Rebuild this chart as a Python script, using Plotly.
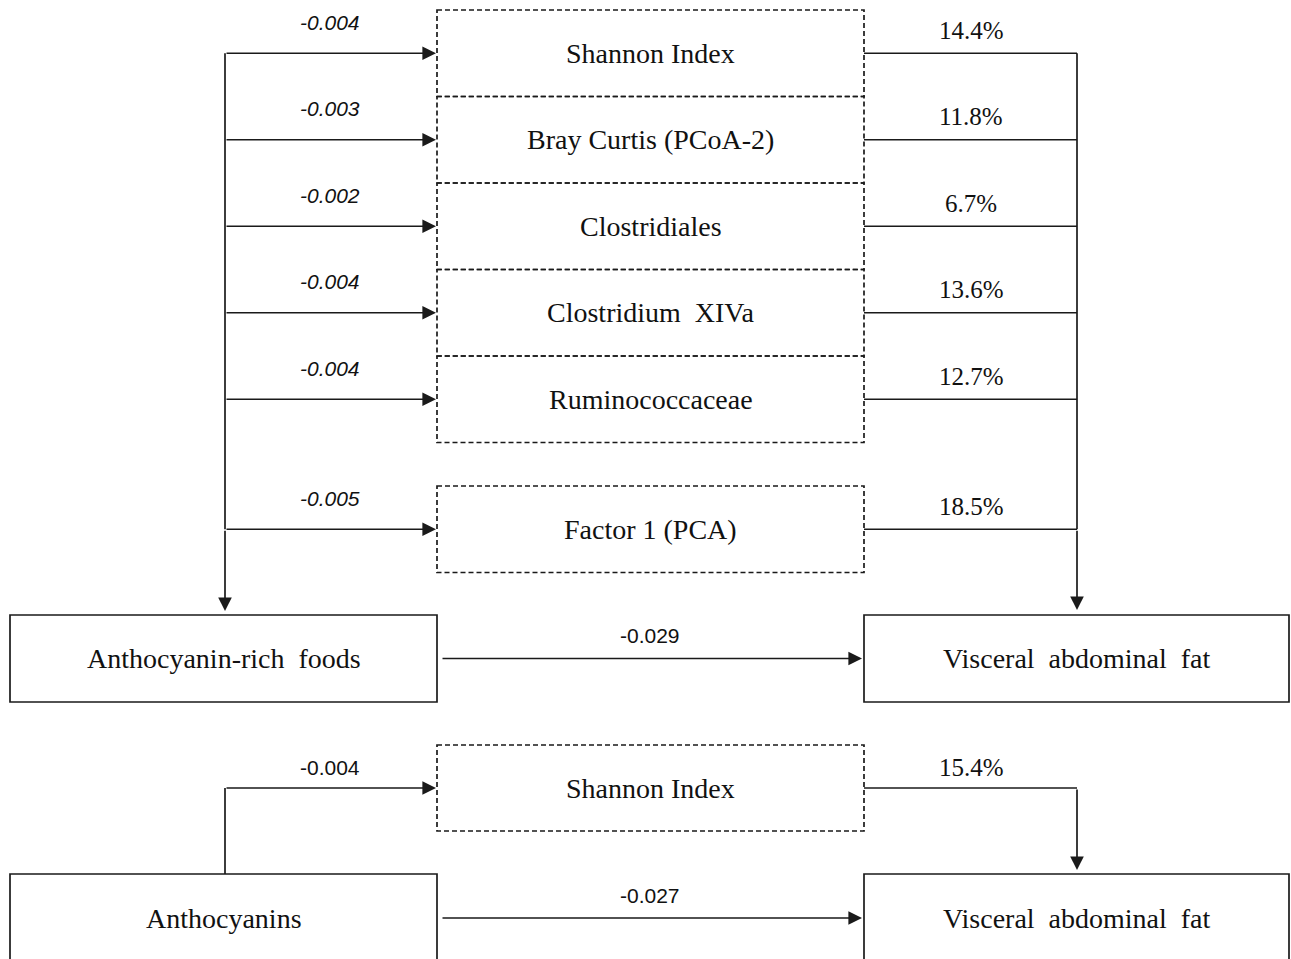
import plotly.graph_objects as go

# ---------------- data ----------------
mediators = ["Shannon Index", "Bray Curtis (PCoA-2)", "Clostridiales",
             "Clostridium\u00a0 XIVa", "Ruminococcaceae", "Factor 1 (PCA)"]
a_path = ["-0.004", "-0.003", "-0.002", "-0.004", "-0.004", "-0.005"]
pct_mediated = ["14.4%", "11.8%", "6.7%", "13.6%", "12.7%", "18.5%"]
exposure_1 = "Anthocyanin-rich\u00a0 foods"
outcome_1 = "Visceral\u00a0 abdominal\u00a0 fat"
direct_1 = "-0.029"

exposure_2 = "Anthocyanins"
mediator_2 = "Shannon Index"
a_path_2 = "-0.004"
pct_mediated_2 = "15.4%"
outcome_2 = "Visceral\u00a0 abdominal\u00a0 fat"
direct_2 = "-0.027"

# ---------------- geometry ----------------
W, H = 1291, 959
LBOX = (10, 437)
MBOX = (437, 864)
RBOX = (864, 1289)
XL, XR = 225, 1077
ROW_H = 86.5
TOP0 = 10
FACTOR_TOP = 486
LINE = "#1a1a1a"
SERIF = "Liberation Serif, Times New Roman, serif"
SANS = "Liberation Sans, Arial, sans-serif"
BOX_FS = 28
PCT_FS = 25
COEF_FS = 21

shapes = []
annotations = []


def box(x0, x1, y0, y1, dashed):
    shapes.append(dict(type="rect", xref="x", yref="y", x0=x0, x1=x1, y0=y0, y1=y1,
                       line=dict(color=LINE, width=1.7,
                                 dash="5px,3px" if dashed else "solid"),
                       fillcolor="rgba(0,0,0,0)"))


def seg(x0, y0, x1, y1):
    shapes.append(dict(type="line", xref="x", yref="y", x0=x0, y0=y0, x1=x1, y1=y1,
                       line=dict(color=LINE, width=1.7)))


def arrow(x0, y0, x1, y1):
    annotations.append(dict(x=x1, y=y1, ax=x0, ay=y0, xref="x", yref="y",
                            axref="x", ayref="y", text="", showarrow=True,
                            arrowhead=2, arrowsize=1.6, arrowwidth=1.7,
                            arrowcolor=LINE, standoff=0, startstandoff=0))


def label(x, y, txt, font, size, italic=False):
    annotations.append(dict(x=x, y=y, xref="x", yref="y", text=txt, showarrow=False,
                            xanchor="center", yanchor="middle",
                            font=dict(family=font, size=size, color="#111",
                                      style="italic" if italic else "normal")))


# mediator rows (top panel)
row_y = []
for i, name in enumerate(mediators):
    if i < len(mediators) - 1:
        top = TOP0 + i * ROW_H
    else:
        top = FACTOR_TOP
    bot = top + ROW_H
    yc = (top + bot) / 2
    row_y.append(yc)
    box(MBOX[0], MBOX[1], top, bot, True)
    label((MBOX[0] + MBOX[1]) / 2, yc, name, SERIF, BOX_FS)
    arrow(XL, yc, MBOX[0] - 1, yc)
    seg(MBOX[1], yc, XR, yc)
    label(330, yc - 31, a_path[i], SANS, COEF_FS, italic=True)
    label(971, yc - 23, pct_mediated[i], SERIF, PCT_FS)

# top panel main boxes
B1_TOP, B1_BOT = 615, 702
seg(XL, row_y[0], XL, row_y[-1])
arrow(XL, row_y[-1], XL, B1_TOP - 4)
seg(XR, row_y[0], XR, row_y[-1])
arrow(XR, row_y[-1], XR, B1_TOP - 5)
box(LBOX[0], LBOX[1], B1_TOP, B1_BOT, False)
box(RBOX[0], RBOX[1], B1_TOP, B1_BOT, False)
yc1 = (B1_TOP + B1_BOT) / 2
label((LBOX[0] + LBOX[1]) / 2, yc1, exposure_1, SERIF, BOX_FS)
label((RBOX[0] + RBOX[1]) / 2, yc1, outcome_1, SERIF, BOX_FS)
arrow(LBOX[1] + 4, yc1, RBOX[0] - 2, yc1)
label(650, yc1 - 23, direct_1, SANS, COEF_FS)

# bottom panel
M2_TOP, M2_BOT = 745, 831
B2_TOP, B2_BOT = 874, 965
ym2 = 788
box(MBOX[0], MBOX[1], M2_TOP, M2_BOT, True)
label((MBOX[0] + MBOX[1]) / 2, ym2, mediator_2, SERIF, BOX_FS)
seg(XL, B2_TOP, XL, ym2)
arrow(XL, ym2, MBOX[0] - 1, ym2)
seg(MBOX[1], ym2, XR, ym2)
arrow(XR, ym2, XR, B2_TOP - 4)
label(330, ym2 - 21, a_path_2, SANS, COEF_FS)
label(971, ym2 - 21, pct_mediated_2, SERIF, PCT_FS)
box(LBOX[0], LBOX[1], B2_TOP, B2_BOT, False)
box(RBOX[0], RBOX[1], B2_TOP, B2_BOT, False)
label((LBOX[0] + LBOX[1]) / 2, 918, exposure_2, SERIF, BOX_FS)
label((RBOX[0] + RBOX[1]) / 2, 918, outcome_2, SERIF, BOX_FS)
arrow(LBOX[1] + 4, 918, RBOX[0] - 2, 918)
label(650, 895, direct_2, SANS, COEF_FS)

fig = go.Figure()
fig.update_layout(
    width=W, height=H,
    margin=dict(l=0, r=0, t=0, b=0),
    paper_bgcolor="white", plot_bgcolor="white",
    xaxis=dict(range=[0, W], visible=False, fixedrange=True),
    yaxis=dict(range=[H, 0], visible=False, fixedrange=True),
    shapes=shapes, annotations=annotations, showlegend=False,
)
fig.write_html(
    "out.html",
    config={"displayModeBar": False},
    post_script="document.body.style.margin='0';document.body.style.overflow='hidden';",
)
